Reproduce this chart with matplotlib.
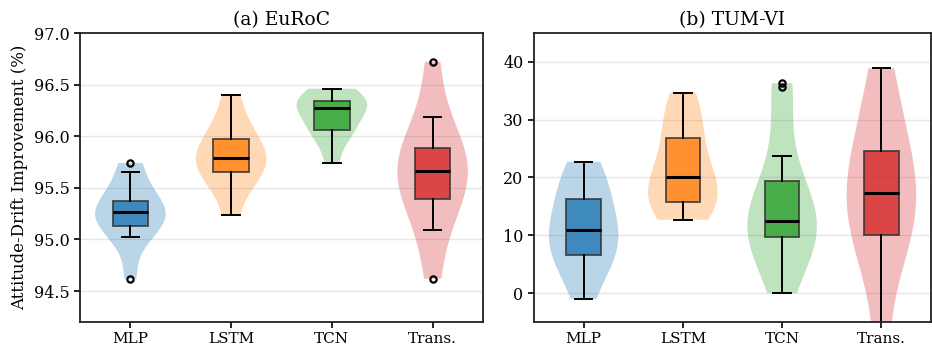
import matplotlib
matplotlib.use("Agg")
import matplotlib.pyplot as plt
import numpy as np

plt.rcParams['font.family'] = ['DejaVu Serif']

categories = ["MLP", "LSTM", "TCN", "Trans."]
colors = ["#1f77b4", "#ff7f0e", "#2ca02c", "#d62728"]

euroc_mlp = [94.62, 95.02, 95.10, 95.16, 95.22, 95.27, 95.31, 95.35, 95.39, 95.65, 95.74]
euroc_lstm = [95.24, 95.52, 95.62, 95.68, 95.74, 95.79, 95.84, 95.93, 96.01, 96.15, 96.40]
euroc_tcn = [95.74, 95.98, 96.04, 96.08, 96.20, 96.27, 96.29, 96.32, 96.36, 96.40, 96.46]
euroc_trans = [94.62, 95.09, 95.33, 95.45, 95.58, 95.66, 95.74, 95.84, 95.94, 96.19, 96.72]

tum_mlp = [-1.0, 4.0, 6.0, 7.2, 9.5, 10.9, 12.5, 15.0, 17.6, 20.0, 22.7]
tum_lstm = [12.7, 14.5, 15.2, 16.2, 18.5, 20.1, 21.5, 25.0, 28.8, 31.0, 34.7]
tum_tcn = [0.0, 5.5, 9.0, 9.95, 11.2, 12.0, 12.8, 15.0, 17.97, 23.7, 35.6, 36.3]
tum_trans = [-9.0, 5.0, 8.5, 11.5, 15.0, 17.4, 19.5, 22.5, 26.7, 32.0, 38.9]

euroc = [euroc_mlp, euroc_lstm, euroc_tcn, euroc_trans]
tum = [tum_mlp, tum_lstm, tum_tcn, tum_trans]

fig = plt.figure(figsize=(9.32, 3.47), dpi=100)
ax1 = fig.add_axes([80/932, 1-322/347, 403/932, 289/347])
ax2 = fig.add_axes([534/932, 1-322/347, 397/932, 289/347])


def draw(ax, data, title, ylim, yticks):
    pos = np.arange(len(data))
    ax.yaxis.grid(True, color="#e6e6e6", linewidth=1.0, zorder=0)
    ax.set_axisbelow(True)
    vp = ax.violinplot(data, positions=pos, widths=0.7, showextrema=False,
                       showmeans=False, showmedians=False)
    for body, c in zip(vp['bodies'], colors):
        body.set_facecolor(c)
        body.set_edgecolor('none')
        body.set_alpha(0.3)
        body.set_zorder(1)
    bp = ax.boxplot(data, positions=pos, widths=0.35, patch_artist=True,
                    medianprops=dict(color='black', linewidth=2.2),
                    whiskerprops=dict(color='black', linewidth=1.4),
                    capprops=dict(color='black', linewidth=1.4),
                    flierprops=dict(marker='o', markersize=4.5, markerfacecolor='none',
                                    markeredgecolor='black', markeredgewidth=1.6),
                    boxprops=dict(linewidth=1.4), zorder=2)
    for patch, c in zip(bp['boxes'], colors):
        patch.set_facecolor(c)
        patch.set_alpha(0.8)
        patch.set_edgecolor('#333333')
    ax.set_xticks(pos)
    ax.set_xticklabels(categories, fontsize=11)
    ax.set_xlim(-0.5, len(data) - 0.5)
    ax.set_ylim(*ylim)
    ax.set_yticks(yticks)
    ax.tick_params(axis='y', labelsize=11.5, length=4, width=1.2)
    ax.tick_params(axis='x', length=4, width=1.2)
    for s in ax.spines.values():
        s.set_linewidth(1.3)
        s.set_color('#222222')
    ax.set_title(title, fontsize=13.5, pad=6)


draw(ax1, euroc, "(a) EuRoC", (94.2, 97.0), [94.5, 95.0, 95.5, 96.0, 96.5, 97.0])
ax1.set_yticklabels(["94.5", "95.0", "95.5", "96.0", "96.5", "97.0"])
ax1.set_ylabel("Attitude-Drift Improvement (%)", fontsize=12)
draw(ax2, tum, "(b) TUM-VI", (-5, 45), [0, 10, 20, 30, 40])

fig.savefig("out.png", dpi=100)
